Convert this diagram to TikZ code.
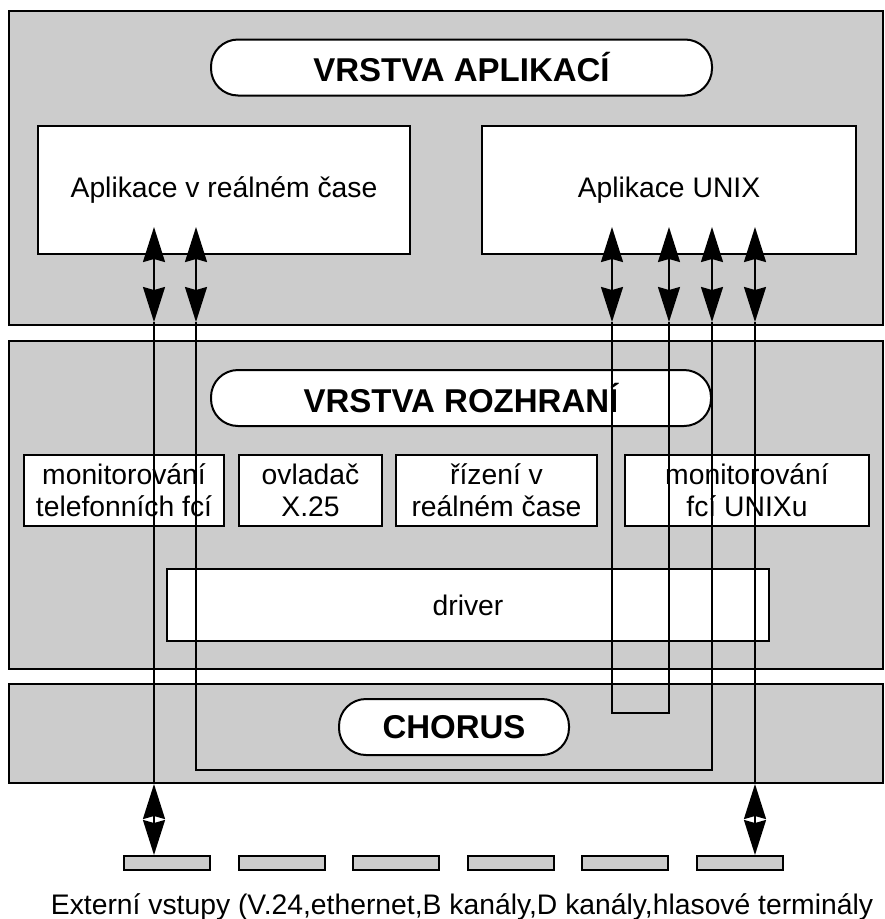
\documentclass[tikz,border=0pt]{standalone}
\usepackage{fontspec}
\setmainfont{Liberation Sans}
\usetikzlibrary{arrows.meta}
\definecolor{layergray}{RGB}{204,204,204}

\begin{document}
\begin{tikzpicture}[
    x=1pt, y=-1pt,
    >={Stealth[length=35pt, width=22pt, inset=3pt]},
    layer/.style={draw=black, fill=layergray, line width=2pt, minimum width=874pt, inner sep=0pt},
    pill/.style={draw=black, fill=white, line width=2pt, rounded corners=27pt, minimum height=56pt, inner sep=0pt, font=\fontsize{33}{38}\selectfont\bfseries},
    box/.style={draw=black, fill=white, line width=2pt, inner sep=0pt, align=center, font=\fontsize{28.3}{32}\selectfont},
    bar/.style={draw=black, fill=layergray, line width=2pt, minimum width=86pt, minimum height=14pt, inner sep=0pt},
    wire/.style={black, line width=2pt}
]

\useasboundingbox (0,0) rectangle (885,919);

% LAYERS
\node[layer, minimum height=314pt] (layapp) at (446,168) {};
\node[layer, minimum height=328pt] (layiface) at (446,505) {};
\node[layer, minimum height=99pt] (laychorus) at (446,733.5) {};

% Layer titles
\node[pill, minimum width=501pt] (titapp) at (461.5,67.5) {VRSTVA APLIKACÍ};
\node[pill, minimum width=500pt] (titiface) at (461,398) {VRSTVA ROZHRANÍ};
\node[pill, minimum width=230pt] (titchorus) at (454,727) {CHORUS};

% Applications
\node[box, minimum width=372pt, minimum height=128pt] (rtapp) at (224,190) {Aplikace v reálném čase};
\node[box, minimum width=374pt, minimum height=128pt] (unixapp) at (669,190) {Aplikace UNIX};

% Interface modules
\node[box, minimum width=200pt, minimum height=71pt] (telmon) at (124,490.5) {monitorování\\telefonních fcí};
\node[box, minimum width=143pt, minimum height=71pt] (xdriver) at (310.5,490.5) {ovladač\\X.25};
\node[box, minimum width=201pt, minimum height=71pt] (rtctl) at (496.5,490.5) {řízení v\\reálném čase};
\node[box, minimum width=244pt, minimum height=71pt] (unixmon) at (747,490.5) {monitorování\\fcí UNIXu};
\node[box, minimum width=602pt, minimum height=72pt] (driver) at (468,605) {driver};

% External inputs
\foreach \i in {0,...,5}
    \node[bar] (bar\i) at (167+114.6*\i,863) {};
\node[font=\fontsize{28.3}{32}\selectfont, anchor=base, inner sep=0pt] (inputs) at (462,914) {Externí vstupy (V.24,ethernet,B kanály,D kanály,hlasové terminály};

% CHANNELS
% A: real time app <-> input 1
% B-E: real time app <-> UNIX app, C-D: inside UNIX app
% F: UNIX app <-> input 6
\foreach \n/\x in {A/154, B/196, C/612, D/669, E/712, F/755} {
    \coordinate (top\n) at (\x,227);
    \coordinate (mid\n) at (\x,322);
    \draw[wire, <->] (top\n) -- (mid\n);
}

\draw[wire] (midA) -- (midA |- laychorus.south);
\draw[wire, <->] (midA |- laychorus.south) -- (midA |- bar0.north);

\draw[wire] (midB) -- ++(0,448) -| (midE);
\draw[wire] (midC) -- ++(0,391) -| (midD);

\draw[wire] (midF) -- (midF |- laychorus.south);
\draw[wire, <->] (midF |- laychorus.south) -- (midF |- bar5.north);

\end{tikzpicture}
\end{document}
